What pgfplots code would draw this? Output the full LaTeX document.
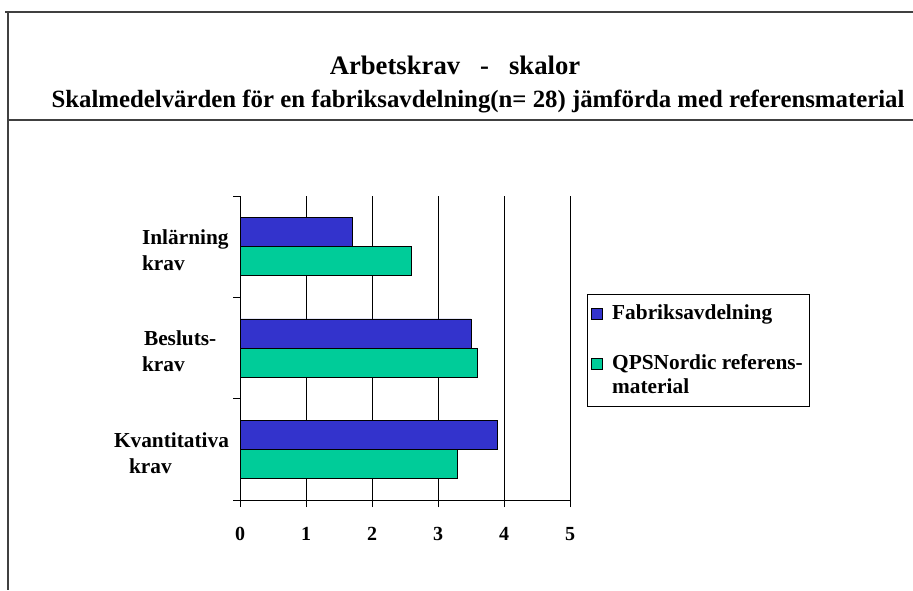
\documentclass[border=0pt]{standalone}
\usepackage{fontspec}
\setmainfont{Liberation Serif}
\usepackage{pgfplots}
\pgfplotsset{compat=1.18}
\definecolor{cblue}{RGB}{51,51,204}
\definecolor{cgreen}{RGB}{0,204,153}
\begin{document}
\begin{tikzpicture}[x=0.75pt,y=0.75pt]
\path[use as bounding box] (0,0) rectangle (913,590);
\draw[line width=1.1pt, black!75] (5,578) -- (913,578);
\draw[line width=1.1pt, black!75] (8,578) -- (8,0);
\draw[line width=1.1pt, black!75] (8,470) -- (913,470);
\node[font=\bfseries\fontsize{20}{24}\selectfont, anchor=base] at (455,515) {Arbetskrav \ \ - \ \ skalor};
\node[font=\bfseries\fontsize{18.6}{22}\selectfont, anchor=base] at (478,482) {Skalmedelvärden för en fabriksavdelning(n= 28) jämförda med referensmaterial};
\begin{axis}[
  at={(180pt,67.5pt)}, anchor=south west,
  scale only axis, width=247.5pt, height=228pt,
  xbar, bar width=0.287,
  xmin=0, xmax=5, ymin=-0.5, ymax=2.5,
  xtick={0,1,2,3,4,5},
  ytick={-0.5,0.5,1.5,2.5}, yticklabel=\empty,
  extra y ticks={0,1,2},
  extra y tick labels={{\hspace*{-21pt}Kvantitativa\\\hspace*{-9.75pt}krav},{\hspace*{1.5pt}Besluts-\\krav},{Inlärning\\krav}},
  extra y tick style={major tick length=0pt},
  yticklabel style={align=left, anchor=west, xshift=-77pt, yshift=-2.6pt, font=\bfseries\fontsize{16}{19.5}\selectfont},
  xticklabel style={yshift=-11.5pt},
  axis x line*=bottom, axis y line*=left, axis line style={-, black, line width=0.6pt},
  tick align=outside, major tick length=5.25pt,
  tick style={black, line width=0.6pt},
  xmajorgrids, grid style={black, line width=0.6pt},
  ticklabel style={font=\bfseries\fontsize{15}{17}\selectfont},
  /pgf/number format/assume math mode=true,
  clip=false,
  legend style={at={(rel axis cs:1.0515,0.6776)}, anchor=north west, draw=black, line width=0.6pt,
    font=\bfseries\fontsize{16}{18}\selectfont, cells={anchor=base west, align=left}, row sep=20.5pt,
    inner xsep=3pt, inner ysep=6pt},
]
\addplot[fill=cblue, draw=black, line width=0.6pt, bar shift=0.1435,
  legend image code/.code={\draw[fill=cblue,draw=black,line width=0.6pt] (0pt,0pt) rectangle (8.25pt,8.25pt); \path (13pt,0pt);}]
  coordinates {(3.9,0) (3.5,1) (1.7,2)};
\addlegendentry{Fabriksavdelning}
\addplot[fill=cgreen, draw=black, line width=0.6pt, bar shift=-0.1435,
  legend image code/.code={\draw[fill=cgreen,draw=black,line width=0.6pt] (0pt,18pt) rectangle (8.25pt,26.25pt); \path (13pt,0pt);}]
  coordinates {(3.3,0) (3.6,1) (2.6,2)};
\addlegendentry{QPSNordic referens-\\material}
\end{axis}
\end{tikzpicture}
\end{document}
